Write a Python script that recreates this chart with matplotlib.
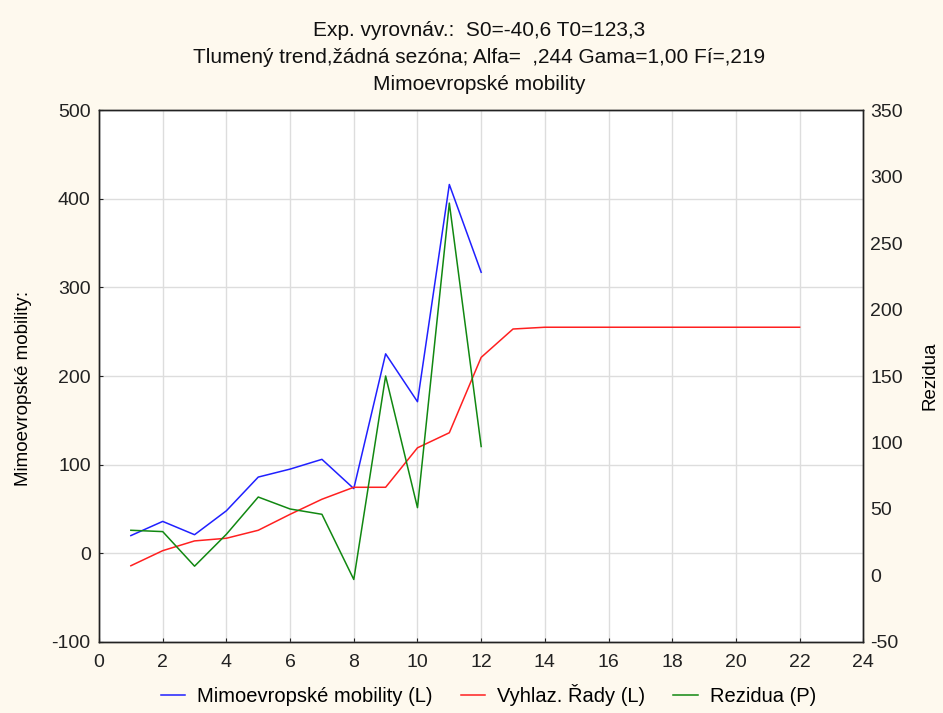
import matplotlib.pyplot as plt
from matplotlib.lines import Line2D

plt.rcParams['font.family'] = ['Liberation Sans', 'DejaVu Sans']
plt.rcParams['axes.unicode_minus'] = False

# data
obs_x = list(range(1, 13))
observed = [20, 36, 21, 48, 86, 95, 106, 73, 225, 171, 416, 317]

smooth_x = list(range(1, 23))
smoothed = [-14, 3, 14, 17, 26, 44, 61, 74.5, 74.5, 119, 136, 221,
            253, 255, 255, 255, 255, 255, 255, 255, 255, 255]

resid = [34, 33, 7, 31, 59, 50, 46, -3, 150, 51, 280, 97]

title_lines = [
    "Exp. vyrovnáv.:  S0=-40,6 T0=123,3",
    "Tlumený trend,žádná sezóna; Alfa=  ,244 Gama=1,00 Fí=,219",
    "Mimoevropské mobility",
]
legend_labels = ["Mimoevropské mobility (L)", "Vyhlaz. Řady (L)", "Rezidua (P)"]

BG = '#fef9ee'
FS = 14

fig = plt.figure(figsize=(9.43, 7.13), dpi=100, facecolor=BG)
ax = fig.add_axes([0.105, 0.0996, 0.8105, 0.7461])
ax.set_facecolor('white')
ax2 = ax.twinx()

ax.plot(obs_x, observed, color='#2020ff', lw=1.1)
ax.plot(smooth_x, smoothed, color='#ff2020', lw=1.1)
ax2.plot(obs_x, resid, color='#118811', lw=1.1)

ax.set_xlim(0, 24)
ax.set_ylim(-100, 500)
ax2.set_ylim(-50, 350)
ax.set_xticks(range(0, 25, 2))
ax.set_yticks(range(-100, 501, 100))
ax2.set_yticks(range(-50, 351, 50))

ax.grid(True, color='#dddddd', lw=1.0)
ax.set_axisbelow(True)

for a in (ax, ax2):
    a.tick_params(direction='in', length=3, labelsize=FS, colors='#222222',
                  pad=6)
    for s in a.spines.values():
        s.set_color('#222222')
        s.set_linewidth(1.0)
ax.tick_params(axis='x', pad=9)
ax2.tick_params(length=0, pad=5)

ax.set_ylabel("Mimoevropské mobility:", fontsize=13.5)
ax.yaxis.set_label_coords(-0.088, 0.477)
ax2.set_ylabel("Rezidua", fontsize=13.5)
ax2.yaxis.set_label_coords(1.076, 0.5)

for i, line in enumerate(title_lines):
    fig.text(0.508, 0.957 - i * 0.038, line, ha='center', va='center',
             fontsize=15, color='#111111')

handles = [Line2D([], [], color=c, lw=1.1)
           for c in ('#2020ff', '#ff2020', '#118811')]
fig.legend(handles, legend_labels, loc='center', ncol=3, frameon=False,
           bbox_to_anchor=(0.518, 0.025), fontsize=14.5, handlelength=1.2,
           handletextpad=0.6, columnspacing=1.4)

fig.savefig('out.png', dpi=100, facecolor=BG)
